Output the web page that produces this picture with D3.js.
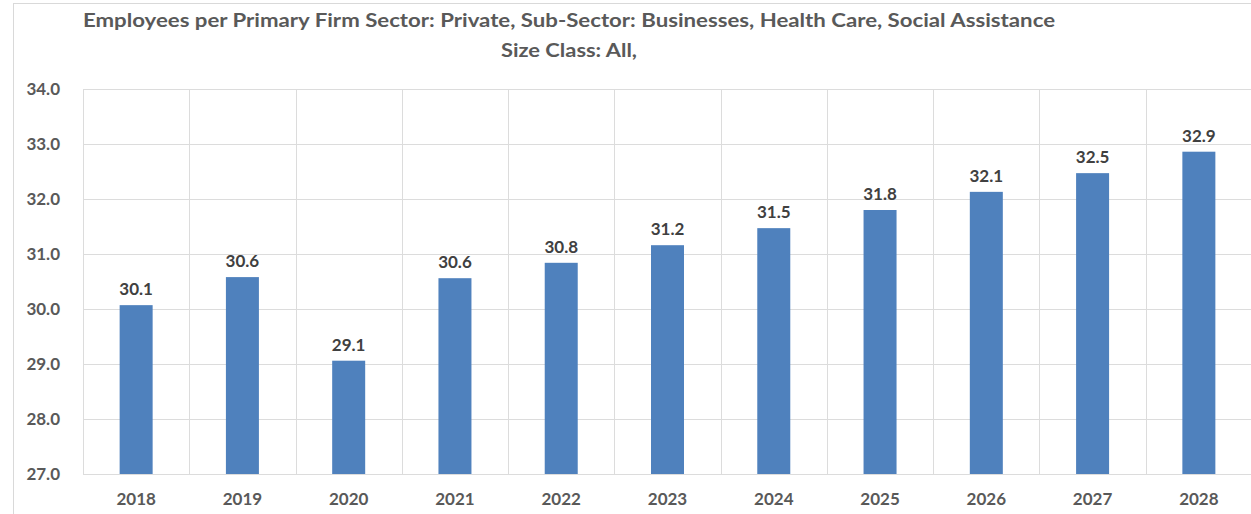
<!DOCTYPE html>
<html>
<head>
<meta charset="utf-8">
<script src="https://cdn.jsdelivr.net/npm/d3@7"></script>
<style>
  body { margin: 0; background: #fff; }
  svg { display: block; font-family: Lato, "Open Sans", sans-serif; }
</style>
</head>
<body>
<div id="chart"></div>
<script>
// chart data
var years = ["2018", "2019", "2020", "2021", "2022", "2023", "2024", "2025", "2026", "2027", "2028"];
var employees = [30.07, 30.58, 29.06, 30.56, 30.84, 31.16, 31.47, 31.8, 32.13, 32.47, 32.86];
var yTicks = [27, 28, 29, 30, 31, 32, 33, 34];
var titleLines = ["Employees per Primary Firm Sector: Private, Sub-Sector: Businesses, Health Care, Social Assistance",
  "Size Class: All,"];
var titleWidths = [972, 136];

var W = 1251, H = 514;
var margin = { top: 89, right: 0, bottom: 40, left: 83 },
  width = 1169,
  height = 474 - margin.top;

var svg = d3.select("#chart")
  .append("svg")
  .attr("width", W)
  .attr("height", H);

// outer chart frame
svg.append("rect")
  .attr("x", 13.5).attr("y", 3.5)
  .attr("width", W).attr("height", H)
  .attr("fill", "none")
  .attr("stroke", "#d9d9d9");

// title (the original is slightly stretched horizontally)
svg.selectAll(".title")
  .data(titleLines)
  .enter()
  .append("text")
  .attr("class", "title")
  .attr("x", 569)
  .attr("y", function (d, i) { return 27 + i * 30; })
  .attr("text-anchor", "middle")
  .attr("textLength", function (d, i) { return titleWidths[i]; })
  .attr("lengthAdjust", "spacingAndGlyphs")
  .style("font-size", "19px")
  .style("font-weight", "bold")
  .style("fill", "#595959")
  .text(function (d) { return d; });

var g = svg.append("g")
  .attr("transform", "translate(" + margin.left + "," + margin.top + ")");

var x = d3.scaleBand()
  .domain(years)
  .range([0, width])
  .paddingInner(0)
  .paddingOuter(0);

var y = d3.scaleLinear()
  .domain([27, 34])
  .range([height, 0]);

// horizontal gridlines
g.selectAll(".hgrid")
  .data(yTicks)
  .enter()
  .append("line")
  .attr("x1", 0).attr("x2", width)
  .attr("y1", function (d) { return Math.round(y(d)) + 0.5; })
  .attr("y2", function (d) { return Math.round(y(d)) + 0.5; })
  .attr("stroke", "#dcdcdc")
  .attr("stroke-width", 1);

// vertical gridlines between categories
g.selectAll(".vgrid")
  .data(years)
  .enter()
  .append("line")
  .attr("x1", function (d) { return Math.round(x(d)) + 0.5; })
  .attr("x2", function (d) { return Math.round(x(d)) + 0.5; })
  .attr("y1", 0).attr("y2", height)
  .attr("stroke", "#dcdcdc")
  .attr("stroke-width", 1);

// y axis
var yAxis = g.append("g")
  .call(d3.axisLeft(y).tickValues(yTicks).tickFormat(d3.format(".1f")).tickSize(0).tickPadding(23));
yAxis.select(".domain").remove();
yAxis.selectAll("text")
  .style("font-size", "17px")
  .style("font-weight", "bold")
  .style("font-family", "Lato, 'Open Sans', sans-serif")
  .style("fill", "#595959");

// x axis
var xAxis = g.append("g")
  .attr("transform", "translate(0," + height + ")")
  .call(d3.axisBottom(x).tickSize(0).tickPadding(19));
xAxis.select(".domain").remove();
xAxis.selectAll("text")
  .style("font-size", "17px")
  .style("font-weight", "bold")
  .style("font-family", "Lato, 'Open Sans', sans-serif")
  .style("fill", "#595959");

// bars
var barW = 33;
g.selectAll(".bar")
  .data(years)
  .enter()
  .append("rect")
  .attr("class", "bar")
  .attr("x", function (d) { return x(d) + x.bandwidth() / 2 - barW / 2; })
  .attr("y", function (d, i) { return y(employees[i]); })
  .attr("width", barW)
  .attr("height", function (d, i) { return height - y(employees[i]); })
  .attr("fill", "#4f81bd");

// value labels
g.selectAll(".lbl")
  .data(years)
  .enter()
  .append("text")
  .attr("class", "lbl")
  .attr("x", function (d) { return x(d) + x.bandwidth() / 2; })
  .attr("y", function (d, i) { return y(employees[i]) - 10; })
  .attr("text-anchor", "middle")
  .style("font-size", "17px")
  .style("font-weight", "bold")
  .style("fill", "#404040")
  .text(function (d, i) { return d3.format(".1f")(employees[i]); });
</script>
</body>
</html>
